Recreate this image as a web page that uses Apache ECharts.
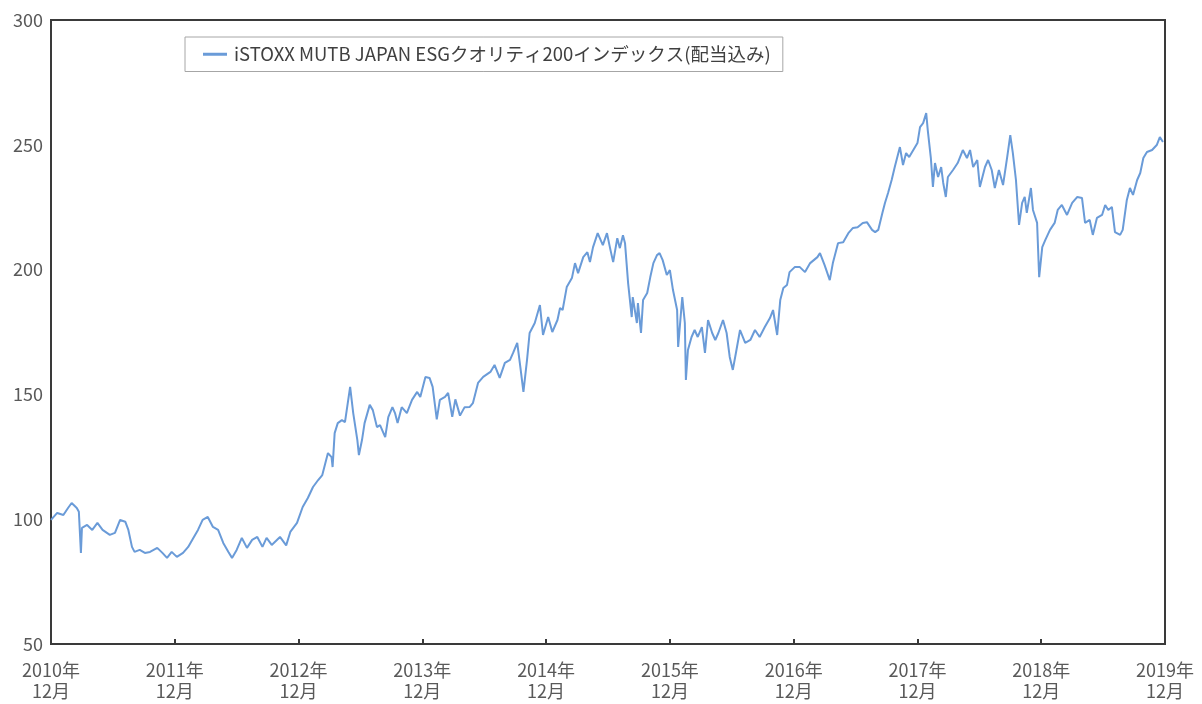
<!DOCTYPE html>
<html>
<head>
<meta charset="utf-8">
<script src="https://cdn.jsdelivr.net/npm/echarts@6/dist/echarts.min.js"></script>
<style>
html,body{margin:0;padding:0;background:#fff;}
#c{width:1202px;height:704px;}
</style>
</head>
<body>
<div id="c"></div>
<script>
// months since Dec 2010
const months = [0,0.6,1.2,1.65,2.0,2.5,2.7,2.9,3.0,3.5,4.0,4.5,5.0,5.7,6.2,6.7,7.2,7.5,7.85,8.1,8.6,9.1,9.6,10.3,10.8,11.25,11.7,12.2,12.8,13.3,13.8,14.25,14.7,15.2,15.7,16.2,16.7,17.2,17.55,18.0,18.5,19.0,19.5,20.0,20.5,20.9,21.4,21.9,22.2,22.8,23.2,23.85,24.4,24.9,25.4,25.9,26.3,26.6,26.85,27.2,27.3,27.5,27.8,28.2,28.5,29.0,29.3,29.7,29.85,30.15,30.4,30.9,31.2,31.6,31.9,32.4,32.7,33.1,33.35,33.6,34.0,34.5,35.0,35.5,35.8,36.3,36.7,37.0,37.4,37.7,38.2,38.5,38.9,39.2,39.65,40.1,40.6,40.9,41.4,41.9,42.6,43.0,43.5,44.0,44.5,44.8,45.2,45.5,45.8,46.15,46.4,46.9,47.4,47.7,48.2,48.6,49.1,49.35,49.6,50.0,50.5,50.8,51.1,51.6,52.0,52.25,52.55,53.0,53.5,53.9,54.2,54.5,54.9,55.15,55.45,55.65,55.95,56.3,56.4,56.8,56.9,57.2,57.4,57.8,58.1,58.4,58.75,59.0,59.3,59.7,60.0,60.3,60.7,60.8,61.2,61.45,61.55,61.75,62.1,62.4,62.7,63.1,63.4,63.7,64.1,64.4,64.7,65.15,65.5,65.8,66.1,66.4,66.8,67.3,67.8,68.25,68.7,69.2,69.7,70.0,70.4,70.7,71.0,71.35,71.6,72.1,72.6,73.1,73.6,74.3,74.55,75.0,75.5,75.8,76.3,76.8,77.3,77.75,78.2,78.7,79.1,79.6,79.9,80.2,80.6,80.85,81.15,81.5,81.8,82.3,82.6,82.9,83.2,83.6,84.0,84.25,84.55,84.85,85.0,85.3,85.5,85.7,86.0,86.3,86.5,86.75,86.95,87.45,87.9,88.4,88.8,89.1,89.4,89.8,90.05,90.55,90.85,91.2,91.5,91.9,92.3,92.7,93.0,93.25,93.55,93.85,94.15,94.4,94.6,95.0,95.2,95.6,95.8,96.1,96.4,96.85,97.3,97.6,98.0,98.5,99.0,99.5,99.95,100.25,100.7,101.0,101.4,101.9,102.2,102.5,102.85,103.15,103.65,103.9,104.3,104.6,104.9,105.3,105.6,105.9,106.25,106.75,107.2,107.5,107.8];
const values = [99.7,102.5,101.7,104.5,106.5,104.5,103,86.5,96.5,97.7,95.7,98.5,95.7,93.7,94.5,99.7,99,95.7,88.9,86.9,87.7,86.5,86.9,88.5,86.5,84.5,86.9,84.9,86.5,88.9,92.5,95.7,99.7,100.9,96.9,95.7,90.5,86.9,84.5,87.7,92.5,88.5,91.7,92.9,88.9,92.5,89.7,91.7,92.9,89.5,94.9,98.5,104.9,108.5,112.9,115.7,117.7,122.5,126.5,124.9,120.9,134.5,138.5,139.7,138.9,153,142.5,131.7,125.7,131.7,138.5,145.8,143.7,136.9,137.7,132.9,140.9,144.9,142.5,138.5,144.9,142.5,147.8,151,149,157,156.6,153,140,147.8,149,150.6,141,148,141.5,144.9,145,146.5,154.6,157,159,161.8,156.6,162.6,163.8,166.6,170.6,161,151,163.8,174.6,178.6,185.8,173.8,181,175,179.8,184.6,183.8,193,196.6,202.6,198.6,205,207,203,209,214.6,209.8,214.6,208.6,203,212.6,208.6,213.8,210.6,194.6,181,189,178.6,186.6,174.6,187.8,190.6,197,202.6,205.8,206.6,203.8,197.8,199.8,191.8,183.8,169,189,178.6,155.8,167.8,173,175.8,173,177,166.6,179.8,174.6,171.8,174.6,179.8,174.6,165,159.8,166.6,175.8,170.6,171.8,175.8,173,177,180.6,183.8,173.8,187.8,192.6,193.8,199,201,201,199,202.6,205,206.6,201.8,195.8,202.6,210.6,211,214.6,216.7,217,218.7,219,215.9,215,215.9,222.7,226.7,230.7,235.9,241.1,249.1,241.9,246.7,245.1,247.9,250.7,257.1,258.7,262.7,255.9,244.7,233.1,242.7,237.1,241.1,234.7,229.1,237.1,239.9,242.7,247.9,244.7,247.9,241.1,243.9,233.1,241.1,243.9,239.9,232.7,239.9,233.9,245.1,253.9,246.7,235.9,217.9,226.7,229.1,222.7,232.7,223.9,218.7,197,209,211.9,215.9,218.7,223.9,225.9,221.9,226.7,229.1,228.7,218.7,219.9,213.9,220.7,221.9,225.9,223.9,225.1,215,213.9,215.9,227.9,232.7,229.9,235.9,238.7,244.7,247.1,247.9,249.9,253.1,251.1];
const seriesName = 'iSTOXX MUTB JAPAN ESGクオリティ200インデックス(配当込み)';
const yTicks = [50, 100, 150, 200, 250, 300];
const startYear = 2010;

const data = months.map((m, i) => [m, values[i]]);
const font = '"Noto Sans CJK JP", "Noto Sans", sans-serif';

const chart = echarts.init(document.getElementById('c'));
chart.setOption({
  animation: false,
  backgroundColor: '#ffffff',
  grid: {
    left: 51, right: 37, top: 20, bottom: 60,
    show: true, borderColor: '#3a3a3a', borderWidth: 2, backgroundColor: 'transparent'
  },
  legend: {
    left: 185, top: 37,
    padding: [8, 12, 8, 18],
    borderColor: '#a6a6a6', borderWidth: 1,
    icon: 'rect', itemWidth: 24, itemHeight: 3, itemGap: 6,
    textStyle: { fontFamily: font, fontSize: 18.5, color: '#404040', padding: [0, 0, 0, 2] },
    data: [seriesName]
  },
  xAxis: {
    type: 'value', min: 0, max: 108, interval: 12,
    axisLine: { show: true, lineStyle: { color: '#3a3a3a', width: 2 } },
    axisTick: { show: true, inside: true, length: 5, lineStyle: { color: '#3a3a3a', width: 2 } },
    splitLine: { show: false },
    axisLabel: {
      fontFamily: font, fontSize: 18, lineHeight: 21, color: '#595959', margin: 16,
      formatter: v => (startYear + Math.round(v / 12)) + '年\n12月'
    }
  },
  yAxis: {
    type: 'value', min: yTicks[0], max: yTicks[yTicks.length - 1], interval: 50,
    axisLine: { show: true, lineStyle: { color: '#3a3a3a', width: 2 } },
    axisTick: { show: false },
    splitLine: { show: false },
    axisLabel: { fontFamily: font, fontSize: 18, color: '#595959', margin: 8 }
  },
  series: [{
    name: seriesName,
    type: 'line',
    data: data,
    showSymbol: false,
    symbol: 'none',
    lineStyle: { color: '#6a9bd8', width: 2 },
    itemStyle: { color: '#6a9bd8' }
  }]
});
</script>
</body>
</html>
